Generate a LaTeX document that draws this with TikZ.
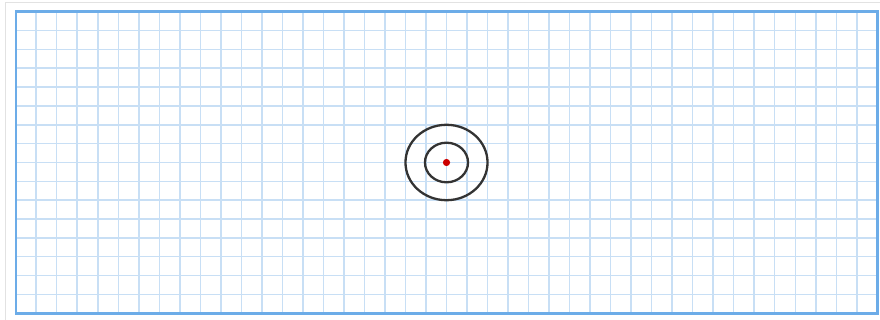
\documentclass[tikz,border=0pt]{standalone}
\usepackage{tikz}
\definecolor{gridblue}{RGB}{200,223,245}
\definecolor{frameblue}{RGB}{108,172,232}
\definecolor{cardgray}{RGB}{226,226,226}
\definecolor{ringgray}{RGB}{51,51,51}
\definecolor{dotred}{RGB}{204,0,0}
\tikzset{
  gridline/.style={draw=gridblue,line width=1.5pt},
  framebox/.style={draw=frameblue,line width=2.4pt},
  ring/.style={draw=ringgray,line width=2.3pt},
}
\begin{document}
\begin{tikzpicture}[x=1pt,y=-1pt]
\useasboundingbox (0,0) rectangle (880,320);
\fill[white] (0,0) rectangle (880,320);
\draw[cardgray,line width=1pt] (5,3) rectangle (890,330);
\pgfmathsetmacro{\gx}{861.6/42}
\pgfmathsetmacro{\gy}{301.6/16}
\foreach \i in {1,...,41} {
  \draw[gridline] ({15.7+\i*\gx},11.7) -- ({15.7+\i*\gx},313.3);
}
\foreach \j in {1,...,15} {
  \draw[gridline] (15.7,{11.7+\j*\gy}) -- (877.3,{11.7+\j*\gy});
}
\draw[framebox] (15.7,11.7) rectangle (877.3,313.3);
\coordinate (c) at ({15.7+21*\gx},{11.7+8*\gy});
\draw[ring] (c) ellipse [x radius={2*\gx}, y radius={2*\gy}];
\draw[ring] (c) ellipse [x radius={1.05*\gx}, y radius={1.05*\gy}];
\fill[dotred] (c) circle [radius=3.6];
\end{tikzpicture}
\end{document}
